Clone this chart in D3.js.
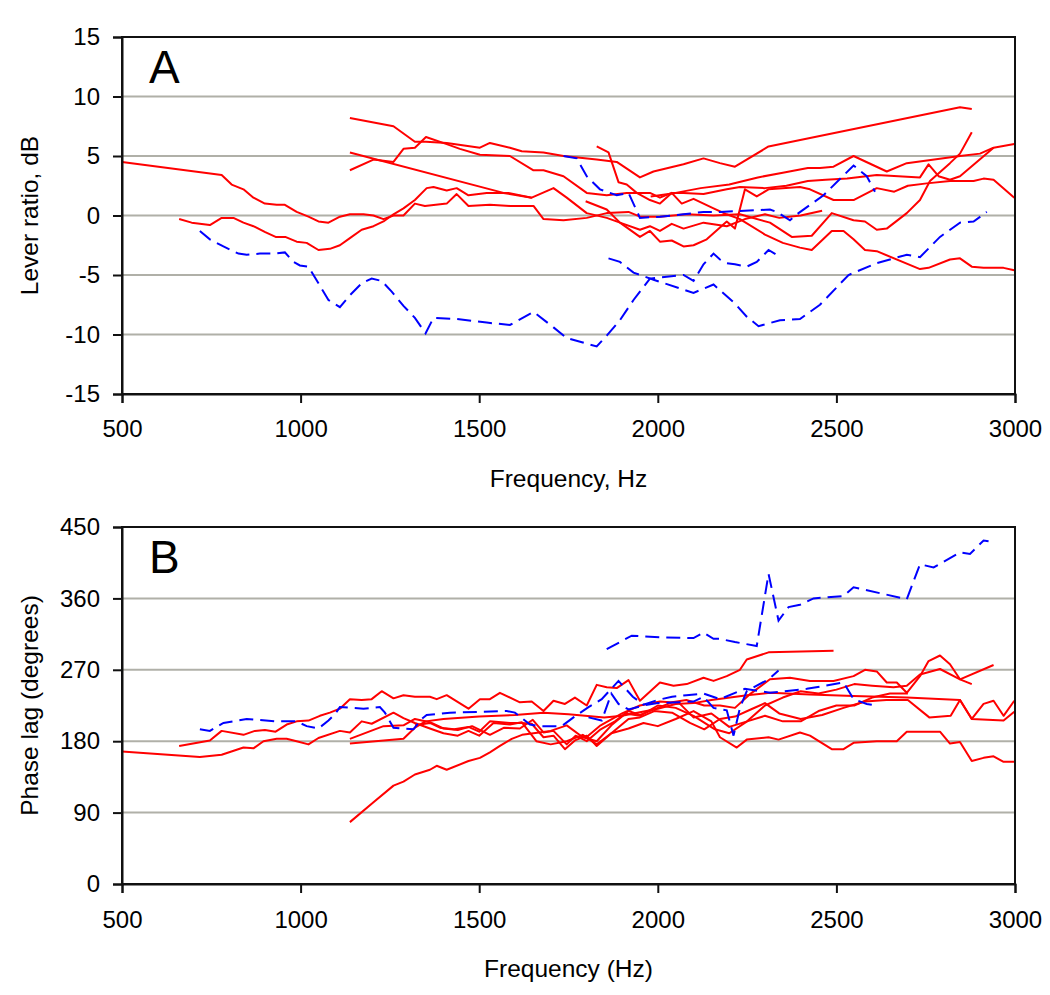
<!DOCTYPE html>
<html>
<head>
<meta charset="utf-8">
<script src="https://cdn.jsdelivr.net/npm/d3@7"></script>
<style>
  html, body { margin: 0; padding: 0; background: #fff; }
  svg { display: block; }
  text { font-family: "Liberation Sans", Arial, sans-serif; fill: #000; }
</style>
</head>
<body>
<svg id="chart" width="1050" height="995"></svg>
<script>
// ---------------- DATA ----------------
const freqTicks = [500, 1000, 1500, 2000, 2500, 3000];
const leverTicks = [-15, -10, -5, 0, 5, 10, 15];
const phaseTicks = [0, 90, 180, 270, 360, 450];

// Panel A: lever ratio (dB) vs frequency (Hz) — red solid series
const leverRed1 = [[500,4.5],[779,3.4],[807,2.6],[840,2.2],[868,1.5],[900,1.0],[933,0.9],[956,0.9],[989,0.3],[1022,-0.1],[1050,-0.5],[1078,-0.6],[1110,-0.1],[1138,0.1],[1176,0.1],[1204,0.0],[1232,-0.3],[1260,0.0],[1288,0.0],[1320,1.0],[1348,0.8],[1409,1.0],[1437,1.8],[1470,0.8],[1530,0.9],[1586,0.8],[1652,0.8],[1680,-0.3],[1736,-0.4],[1801,-0.2],[1857,0.2],[1918,0.3],[1950,-0.1],[2006,-0.1],[2081,0.1],[2156,0.0],[2230,0.1],[2314,-0.6],[2375,-1.8],[2431,-1.7],[2487,0.2],[2548,-0.4],[2580,-0.5],[2613,-1.2],[2641,-1.1],[2697,0.2],[2734,1.3],[2762,2.9],[2818,4.4],[2846,5.2],[2879,7.0]];
const leverRed2 = [[660,-0.3],[695,-0.6],[746,-0.8],[779,-0.2],[812,-0.2],[840,-0.6],[868,-0.9],[901,-1.4],[930,-1.8],[957,-1.8],[989,-2.2],[1017,-2.3],[1050,-2.9],[1082,-2.8],[1110,-2.5],[1138,-1.9],[1171,-1.2],[1204,-0.9],[1232,-0.5],[1260,0.1],[1288,0.6],[1320,1.3],[1353,2.3],[1372,2.4],[1409,2.1],[1437,2.3],[1470,1.7],[1521,1.9],[1582,1.9],[1647,1.5],[1708,2.3],[1745,1.5],[1801,0.2],[1857,-0.2],[1894,-0.6],[1950,-1.8],[1978,-1.3],[2006,-2.2],[2039,-2.1],[2072,-2.6],[2100,-2.5],[2137,-2.0],[2193,-0.5],[2216,-1.1],[2244,2.2],[2277,1.6],[2310,2.2],[2398,2.4],[2426,2.2],[2492,1.3],[2548,1.3],[2613,2.3],[2662,2.0],[2700,2.5],[2753,2.7],[2818,2.9],[2884,2.9],[2912,3.1],[2940,3.0],[2998,1.5]];
const leverRed3 = [[1138,8.2],[1260,7.5],[1320,6.2],[1351,6.2],[1409,6.1],[1502,5.7],[1530,6.1],[1586,5.7],[1619,5.4],[1680,5.3],[1736,5.0],[1829,4.7],[1885,4.5],[1950,3.2],[1988,3.7],[2072,4.3],[2128,4.8],[2174,4.4],[2216,4.1],[2310,5.8],[2846,9.1],[2879,8.95]];
const leverRed4 = [[1138,3.8],[1204,4.7],[1260,4.5],[1288,5.6],[1320,5.7],[1351,6.6],[1409,6.0],[1446,5.6],[1502,5.1],[1586,5.0],[1652,3.8],[1680,3.8],[1736,3.3],[1801,1.9],[1857,1.7],[1913,1.9],[1978,1.9],[2006,1.5],[2039,1.9],[2072,1.9],[2128,1.8],[2193,2.2],[2230,2.4],[2300,2.3],[2360,2.5],[2420,2.9],[2470,3.0],[2530,3.1],[2613,3.4],[2734,3.2],[2758,4.3],[2786,3.3],[2818,3.0],[2846,3.3],[2940,5.7]];
const leverRed5 = [[1138,5.3],[1568,1.9],[1647,1.5]];
const leverRed6 = [[1829,5.8],[1862,5.3],[1890,2.8],[1913,2.6],[1941,1.9],[1978,1.3],[2006,1.0],[2039,1.9],[2067,1.0],[2100,1.4],[2128,1.0],[2156,0.6],[2193,0.1],[2230,-0.3],[2300,-1.6],[2350,-2.3],[2398,-2.7],[2431,-2.9],[2487,-1.3],[2520,-1.3],[2548,-2.0],[2580,-2.9],[2613,-3.0],[2734,-4.5],[2758,-4.4],[2818,-3.7],[2846,-3.6],[2879,-4.3],[2912,-4.4],[2968,-4.4],[2998,-4.6]];
const leverRed7 = [[1798,1.2],[1857,0.5],[1894,-0.6],[1950,-1.2],[1978,-0.9],[2006,-1.3],[2039,-0.7],[2072,-1.1],[2128,-0.6],[2193,-0.9],[2244,-0.3],[2300,0.1],[2340,-0.2],[2400,0.0],[2460,0.4]];
const leverRed8 = [[1980,1.6],[2050,1.9],[2120,2.3],[2200,2.6],[2280,3.2],[2350,3.6],[2420,4.0],[2454,4.0],[2492,4.1],[2548,5.0],[2641,3.7],[2697,4.4],[2846,5.0],[2902,5.2],[2940,5.7],[2998,6.0]];
// Panel A — blue dashed series
const leverBlue1 = [[718,-1.3],[746,-2.0],[784,-2.6],[826,-3.2],[849,-3.3],[886,-3.2],[924,-3.2],[956,-3.1],[980,-3.9],[998,-4.2],[1022,-4.3],[1050,-5.7],[1078,-7.1],[1110,-7.7],[1138,-6.7],[1171,-5.7],[1199,-5.3],[1227,-5.5],[1255,-6.4],[1288,-7.6],[1320,-8.6],[1350,-9.9],[1372,-8.6],[1437,-8.7],[1521,-9.0],[1586,-9.2],[1652,-8.1],[1708,-9.4],[1745,-10.3],[1829,-11.0],[1857,-10.1],[1894,-8.8],[1932,-7.1],[1978,-5.3],[2006,-5.2],[2072,-5.0],[2100,-5.5],[2128,-4.1],[2156,-3.2],[2174,-3.7],[2193,-4.0],[2216,-4.1],[2249,-4.3],[2277,-3.9],[2310,-2.9],[2338,-3.4]];
const leverBlue2 = [[1862,-3.6],[1894,-3.9],[1932,-4.8],[1988,-5.4],[2100,-6.5],[2156,-5.8],[2216,-7.4],[2249,-8.5],[2282,-9.3],[2342,-8.8],[2398,-8.7],[2454,-7.5],[2534,-5.0],[2613,-4.0],[2697,-3.3],[2734,-3.5],[2790,-1.8],[2846,-0.6],[2884,-0.5],[2921,0.3]];
const leverBlue3 = [[1736,5.0],[1773,4.8],[1801,3.3],[1838,2.2],[1885,1.7],[1918,1.9],[1950,-0.2],[2006,-0.1],[2072,0.1],[2128,0.3],[2174,0.3],[2314,0.5],[2333,0.3],[2370,-0.4],[2394,0.2],[2464,1.7],[2548,4.2],[2585,3.3],[2608,2.0]];

// Panel B: phase lag (degrees) vs frequency (Hz) — red solid series
const phaseRed1 = [[500,167],[718,160],[779,163],[840,172],[868,171],[896,180],[933,183],[961,183],[989,180],[1022,176],[1050,184],[1110,193],[1138,191],[1171,205],[1199,202],[1260,216],[1288,209],[1320,203],[1362,196],[1400,190],[1440,187],[1470,193],[1500,187],[1540,203],[1586,201],[1619,204],[1660,180],[1700,176],[1745,180],[1790,188],[1829,176],[1870,190],[1918,196],[1960,203],[2000,199],[2050,208],[2100,218],[2150,205],[2174,185],[2221,172],[2249,182],[2310,185],[2338,182],[2398,191],[2426,187],[2487,170],[2520,170],[2548,178],[2613,180],[2669,180],[2697,192],[2790,192],[2818,177],[2846,179],[2879,155],[2912,159],[2940,161],[2968,154],[2998,154]];
const phaseRed2 = [[660,174],[746,181],[779,193],[840,188],[872,193],[900,194],[930,192],[961,201],[989,205],[1022,206],[1054,212],[1082,216],[1110,221],[1138,233],[1171,232],[1199,233],[1227,243],[1260,234],[1288,238],[1320,236],[1362,236],[1381,233],[1409,238],[1470,221],[1502,233],[1530,233],[1558,241],[1614,229],[1647,230],[1680,218],[1708,231],[1740,227],[1768,235],[1801,225],[1829,251],[1857,248],[1885,247],[1918,257],[1950,231],[2006,254],[2044,250],[2081,252],[2128,260],[2156,256],[2193,262],[2230,270],[2249,283],[2310,292],[2492,294]];
const phaseRed3 = [[1138,177],[1288,183],[1320,197],[1350,205],[1400,208],[1500,211],[1600,213],[1680,216],[1750,214],[1850,210],[1900,212],[2000,221],[2050,227],[2100,228],[2150,232],[2250,238],[2314,241],[2426,239],[2548,237],[2697,235],[2846,232],[2879,208],[2968,206],[2998,217]];
const phaseRed4 = [[1138,183],[1232,199],[1288,200],[1320,208],[1362,204],[1400,196],[1440,194],[1480,199],[1530,188],[1570,197],[1614,196],[1650,207],[1680,191],[1708,193],[1745,176],[1770,187],[1801,180],[1840,195],[1880,205],[1918,218],[1950,213],[2000,222],[2040,229],[2080,232],[2130,225],[2174,225],[2216,222],[2260,240],[2314,258],[2370,260],[2426,256],[2492,256],[2548,262],[2580,270],[2613,268],[2641,254],[2669,254],[2697,241],[2734,262],[2758,281],[2790,288],[2818,277],[2846,258],[2879,252]];
const phaseRed5 = [[1800,185],[1840,200],[1900,215],[1950,225],[2006,230],[2060,228],[2100,210],[2150,215],[2200,198],[2250,205],[2300,225],[2350,235],[2400,243],[2450,240],[2500,245],[2550,252],[2600,250],[2660,248],[2697,250],[2734,264],[2790,271],[2846,258],[2940,276]];
const phaseRed6 = [[1138,78],[1204,103],[1260,124],[1288,129],[1320,138],[1362,144],[1381,149],[1409,144],[1470,155],[1502,159],[1530,166],[1558,174],[1591,183],[1620,188],[1652,190],[1700,193],[1745,200],[1790,185],[1829,180],[1870,200],[1910,215],[1950,212],[2000,225],[2050,222],[2100,212],[2160,195],[2200,190],[2250,205],[2300,212],[2350,205],[2400,205],[2450,218],[2500,225],[2550,225],[2600,235],[2650,240],[2700,240]];
const phaseRed7 = [[1320,200],[1362,203],[1390,197],[1430,195],[1470,198],[1500,192],[1530,205],[1586,203],[1619,203],[1647,202],[1680,185],[1708,187],[1740,170],[1768,181],[1801,187],[1829,174],[1870,190],[1918,208],[1950,210],[1990,218],[2040,216],[2090,203],[2130,195],[2174,208],[2216,211],[2260,220],[2300,228],[2340,215],[2400,208],[2460,213],[2520,222],[2580,230],[2640,232],[2700,232],[2760,210],[2820,212],[2846,232],[2879,208],[2912,227],[2940,231],[2968,212],[2998,231]];
// Panel B — blue dashed series
const phaseBlue1 = [[718,195],[746,193],[784,203],[849,208],[877,207],[933,205],[989,205],[1017,199],[1050,196],[1078,206],[1096,214],[1110,223],[1176,221],[1222,223],[1236,216],[1260,197],[1316,195],[1339,208],[1353,213],[1418,216],[1577,218],[1600,216],[1642,201],[1666,199],[1731,199],[1764,210],[1806,223],[1843,233],[1890,256],[1930,236],[1960,226],[2000,232],[2040,236],[2080,238],[2128,240],[2174,233],[2244,246],[2314,241],[2417,246],[2520,254],[2548,233],[2585,227],[2613,225]];
const phaseBlue2 = [[1806,210],[1843,206],[1870,240],[1890,227],[1918,220],[1960,225],[2000,228],[2060,229],[2100,230],[2128,236],[2156,222],[2193,219],[2212,187],[2230,222],[2249,243],[2277,250],[2310,258],[2338,269]];
const phaseBlue3 = [[1857,296],[1927,313],[2006,311],[2100,310],[2128,317],[2156,309],[2174,309],[2216,305],[2277,300],[2310,391],[2338,332],[2366,349],[2398,352],[2436,360],[2520,363],[2548,374],[2697,359],[2734,403],[2772,399],[2846,418],[2874,416],[2912,433],[2926,432]];

const leverRedSeries = [leverRed1, leverRed2, leverRed3, leverRed4, leverRed5, leverRed6, leverRed7, leverRed8];
const leverBlueSeries = [leverBlue1, leverBlue2, leverBlue3];
const phaseRedSeries = [phaseRed1, phaseRed2, phaseRed3, phaseRed4, phaseRed5, phaseRed6, phaseRed7];
const phaseBlueSeries = [phaseBlue1, phaseBlue2, phaseBlue3];

// ---------------- DRAW ----------------
const svg = d3.select("#chart");
svg.append("rect").attr("width", 1050).attr("height", 995).attr("fill", "#fff");

const X0 = 122, X1 = 1015;

function panel(cfg) {
  const x = d3.scaleLinear().domain([500, 3000]).range([X0, X1]);
  const y = d3.scaleLinear().domain(cfg.domain).range([cfg.bottom, cfg.top]);
  const g = svg.append("g");

  // gridlines
  g.append("g").selectAll("line")
    .data(cfg.ticks.filter(t => t !== cfg.domain[0] && t !== cfg.domain[1]))
    .join("line")
    .attr("x1", X0).attr("x2", X1)
    .attr("y1", d => y(d)).attr("y2", d => y(d))
    .attr("stroke", "#b0b0a8").attr("stroke-width", 2);

  const line = d3.line().x(d => x(d[0])).y(d => y(d[1]));

  g.append("g").selectAll("path")
    .data(cfg.red).join("path")
    .attr("d", line).attr("fill", "none")
    .attr("stroke", "#ff0000").attr("stroke-width", 2)
    .attr("stroke-linejoin", "round");

  g.append("g").selectAll("path")
    .data(cfg.blue).join("path")
    .attr("d", line).attr("fill", "none")
    .attr("stroke", "#0000ff").attr("stroke-width", 2)
    .attr("stroke-dasharray", "14,7");

  // frame
  g.append("rect")
    .attr("x", X0).attr("y", cfg.top)
    .attr("width", X1 - X0).attr("height", cfg.bottom - cfg.top)
    .attr("fill", "none").attr("stroke", "#111").attr("stroke-width", 2);

  // axes
  const ya = g.append("g").attr("transform", `translate(${X0},0)`)
    .call(d3.axisLeft(y).tickValues(cfg.ticks).tickSize(9).tickPadding(13)
      .tickFormat(d => String(d)));
  const xa = g.append("g").attr("transform", `translate(0,${cfg.bottom})`)
    .call(d3.axisBottom(x).tickValues(freqTicks).tickSize(9).tickPadding(cfg.xpad)
      .tickFormat(d => String(d)));
  [ya, xa].forEach(a => {
    a.select(".domain").attr("stroke", "#111").attr("stroke-width", 2);
    a.selectAll(".tick line").attr("stroke", "#111").attr("stroke-width", 2);
    a.selectAll(".tick text").attr("font-size", 24)
      .attr("font-family", '"Liberation Sans", Arial, sans-serif').attr("fill", "#000");
  });

  // titles
  g.append("text")
    .attr("transform", `translate(38,${(cfg.top + cfg.bottom) / 2}) rotate(-90)`)
    .attr("text-anchor", "middle").attr("font-size", 24.5)
    .text(cfg.ytitle);
  g.append("text")
    .attr("x", (X0 + X1) / 2).attr("y", cfg.xtitleY)
    .attr("text-anchor", "middle").attr("font-size", 24.5)
    .text(cfg.xtitle);
  g.append("text")
    .attr("x", 149).attr("y", cfg.letterY)
    .attr("font-size", 46)
    .text(cfg.letter);
}

panel({
  domain: [-15, 15], top: 37, bottom: 394, ticks: leverTicks,
  red: leverRedSeries, blue: leverBlueSeries,
  ytitle: "Lever ratio, dB", xtitle: "Frequency, Hz",
  xtitleY: 487, letter: "A", letterY: 83, xpad: 17
});
panel({
  domain: [0, 450], top: 527, bottom: 884, ticks: phaseTicks,
  red: phaseRedSeries, blue: phaseBlueSeries,
  ytitle: "Phase lag (degrees)", xtitle: "Frequency (Hz)",
  xtitleY: 977, letter: "B", letterY: 573, xpad: 18
});
</script>
</body>
</html>
